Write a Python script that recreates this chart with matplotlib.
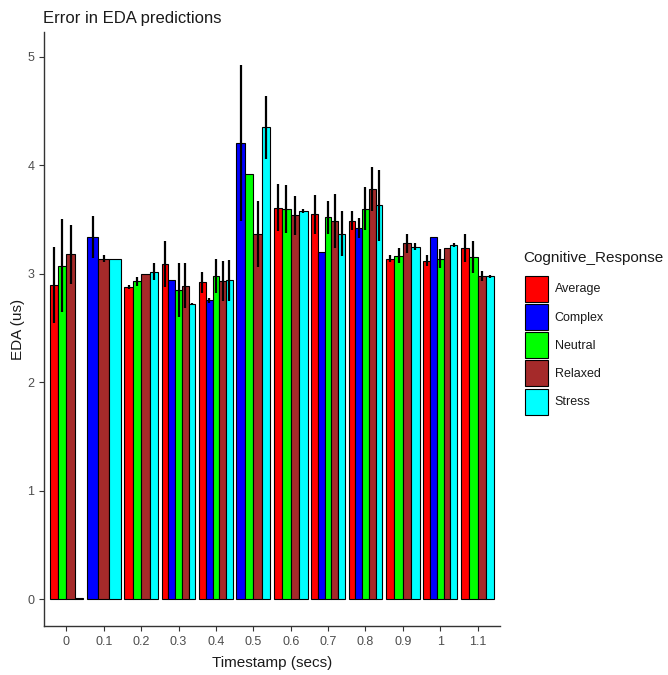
import numpy as np
import matplotlib
matplotlib.use("Agg")
import matplotlib.pyplot as plt
from matplotlib.patches import Patch

plt.rcParams['font.family'] = ['Liberation Sans', 'DejaVu Sans']

nan = np.nan
timestamps = ["0", "0.1", "0.2", "0.3", "0.4", "0.5", "0.6", "0.7", "0.8", "0.9", "1", "1.1"]
categories = ["Average", "Complex", "Neutral", "Relaxed", "Stress"]
colors = ["#FF0000", "#0000FF", "#00FF00", "#A52A2A", "#00FFFF"]

average = [2.90, nan, 2.88, 3.09, 2.92, nan, 3.61, 3.55, 3.49, 3.14, 3.12, 3.235]
complex_ = [nan, 3.34, nan, 2.94, 2.755, 4.21, nan, 3.20, 3.42, nan, 3.34, nan]
neutral = [3.075, nan, 2.93, 2.85, 2.98, 3.92, 3.60, 3.52, 3.60, 3.165, 3.14, 3.155]
relaxed = [3.18, 3.14, 3.00, 2.89, 2.93, 3.37, 3.54, 3.49, 3.78, 3.28, 3.235, 2.98]
stress = [0.005, 3.14, 3.02, 2.72, 2.94, 4.35, 3.58, 3.37, 3.63, 3.25, 3.265, 2.975]

average_err = [0.35, nan, 0.02, 0.21, 0.10, nan, 0.215, 0.18, 0.085, 0.03, 0.05, 0.13]
complex_err = [nan, 0.19, nan, 0.0, 0.025, 0.72, nan, 0.0, 0.09, nan, 0.0, nan]
neutral_err = [0.43, nan, 0.04, 0.245, 0.16, 0.0, 0.22, 0.15, 0.20, 0.07, 0.09, 0.15]
relaxed_err = [0.27, 0.035, 0.0, 0.21, 0.185, 0.305, 0.18, 0.25, 0.205, 0.09, 0.0, 0.045]
stress_err = [0.005, 0.0, 0.08, 0.01, 0.19, 0.29, 0.02, 0.21, 0.33, 0.03, 0.02, 0.01]

values = [average, complex_, neutral, relaxed, stress]
errors = [average_err, complex_err, neutral_err, relaxed_err, stress_err]

fig = plt.figure(figsize=(6.68, 6.75), dpi=100)
ax = fig.add_axes([44/668, 1-626/675, (500-44)/668, (626-32)/675])

group_w = 0.9
for gi in range(len(timestamps)):
    present = [ci for ci in range(len(categories)) if not np.isnan(values[ci][gi])]
    n = len(present)
    w = group_w / n
    for k, ci in enumerate(present):
        x = (gi + 1) - group_w/2 + w*(k + 0.5)
        v = values[ci][gi]
        ax.bar(x, v, width=w, color=colors[ci], edgecolor="black", linewidth=0.8, zorder=2)
        e = errors[ci][gi]
        if e > 0:
            ax.errorbar(x, v, yerr=e, fmt='none', ecolor='black', elinewidth=1.6, capsize=0, zorder=3)

ax.set_xlim(0.4, 12.6)
ax.set_ylim(-0.249, 5.23)
ax.set_xticks(range(1, 13))
ax.set_xticklabels(timestamps)
ax.set_yticks([0, 1, 2, 3, 4, 5])
ax.tick_params(axis='both', colors='#333333', labelcolor='#4D4D4D', labelsize=9, length=3.5, width=0.8)
for s in ['top', 'right']:
    ax.spines[s].set_visible(False)
for s in ['left', 'bottom']:
    ax.spines[s].set_color('#333333')
    ax.spines[s].set_linewidth(1.0)

ax.set_xlabel("Timestamp (secs)", fontsize=11, color='#1A1A1A', labelpad=6)
ax.set_ylabel("EDA (us)", fontsize=11, color='#1A1A1A', labelpad=2)
fig.text(43/668, 1-18/675, "Error in EDA predictions", fontsize=12, color='#1A1A1A', va='center', ha='left')

fig.text(523/668, 1-258/675, "Cognitive_Response", fontsize=11, color='#1A1A1A', va='center', ha='left')
handles = [Patch(facecolor=c, edgecolor='black', linewidth=0.8) for c in colors]
leg = fig.legend(handles, categories, loc='upper left', bbox_to_anchor=(516/668, 1-267/675),
                 frameon=False, fontsize=9,
                 handlelength=1.84, handleheight=2.82, labelspacing=0.18, handletextpad=0.56,
                 borderpad=0.2)
for t in leg.get_texts():
    t.set_color('#1A1A1A')

fig.savefig("out.png", dpi=100)
